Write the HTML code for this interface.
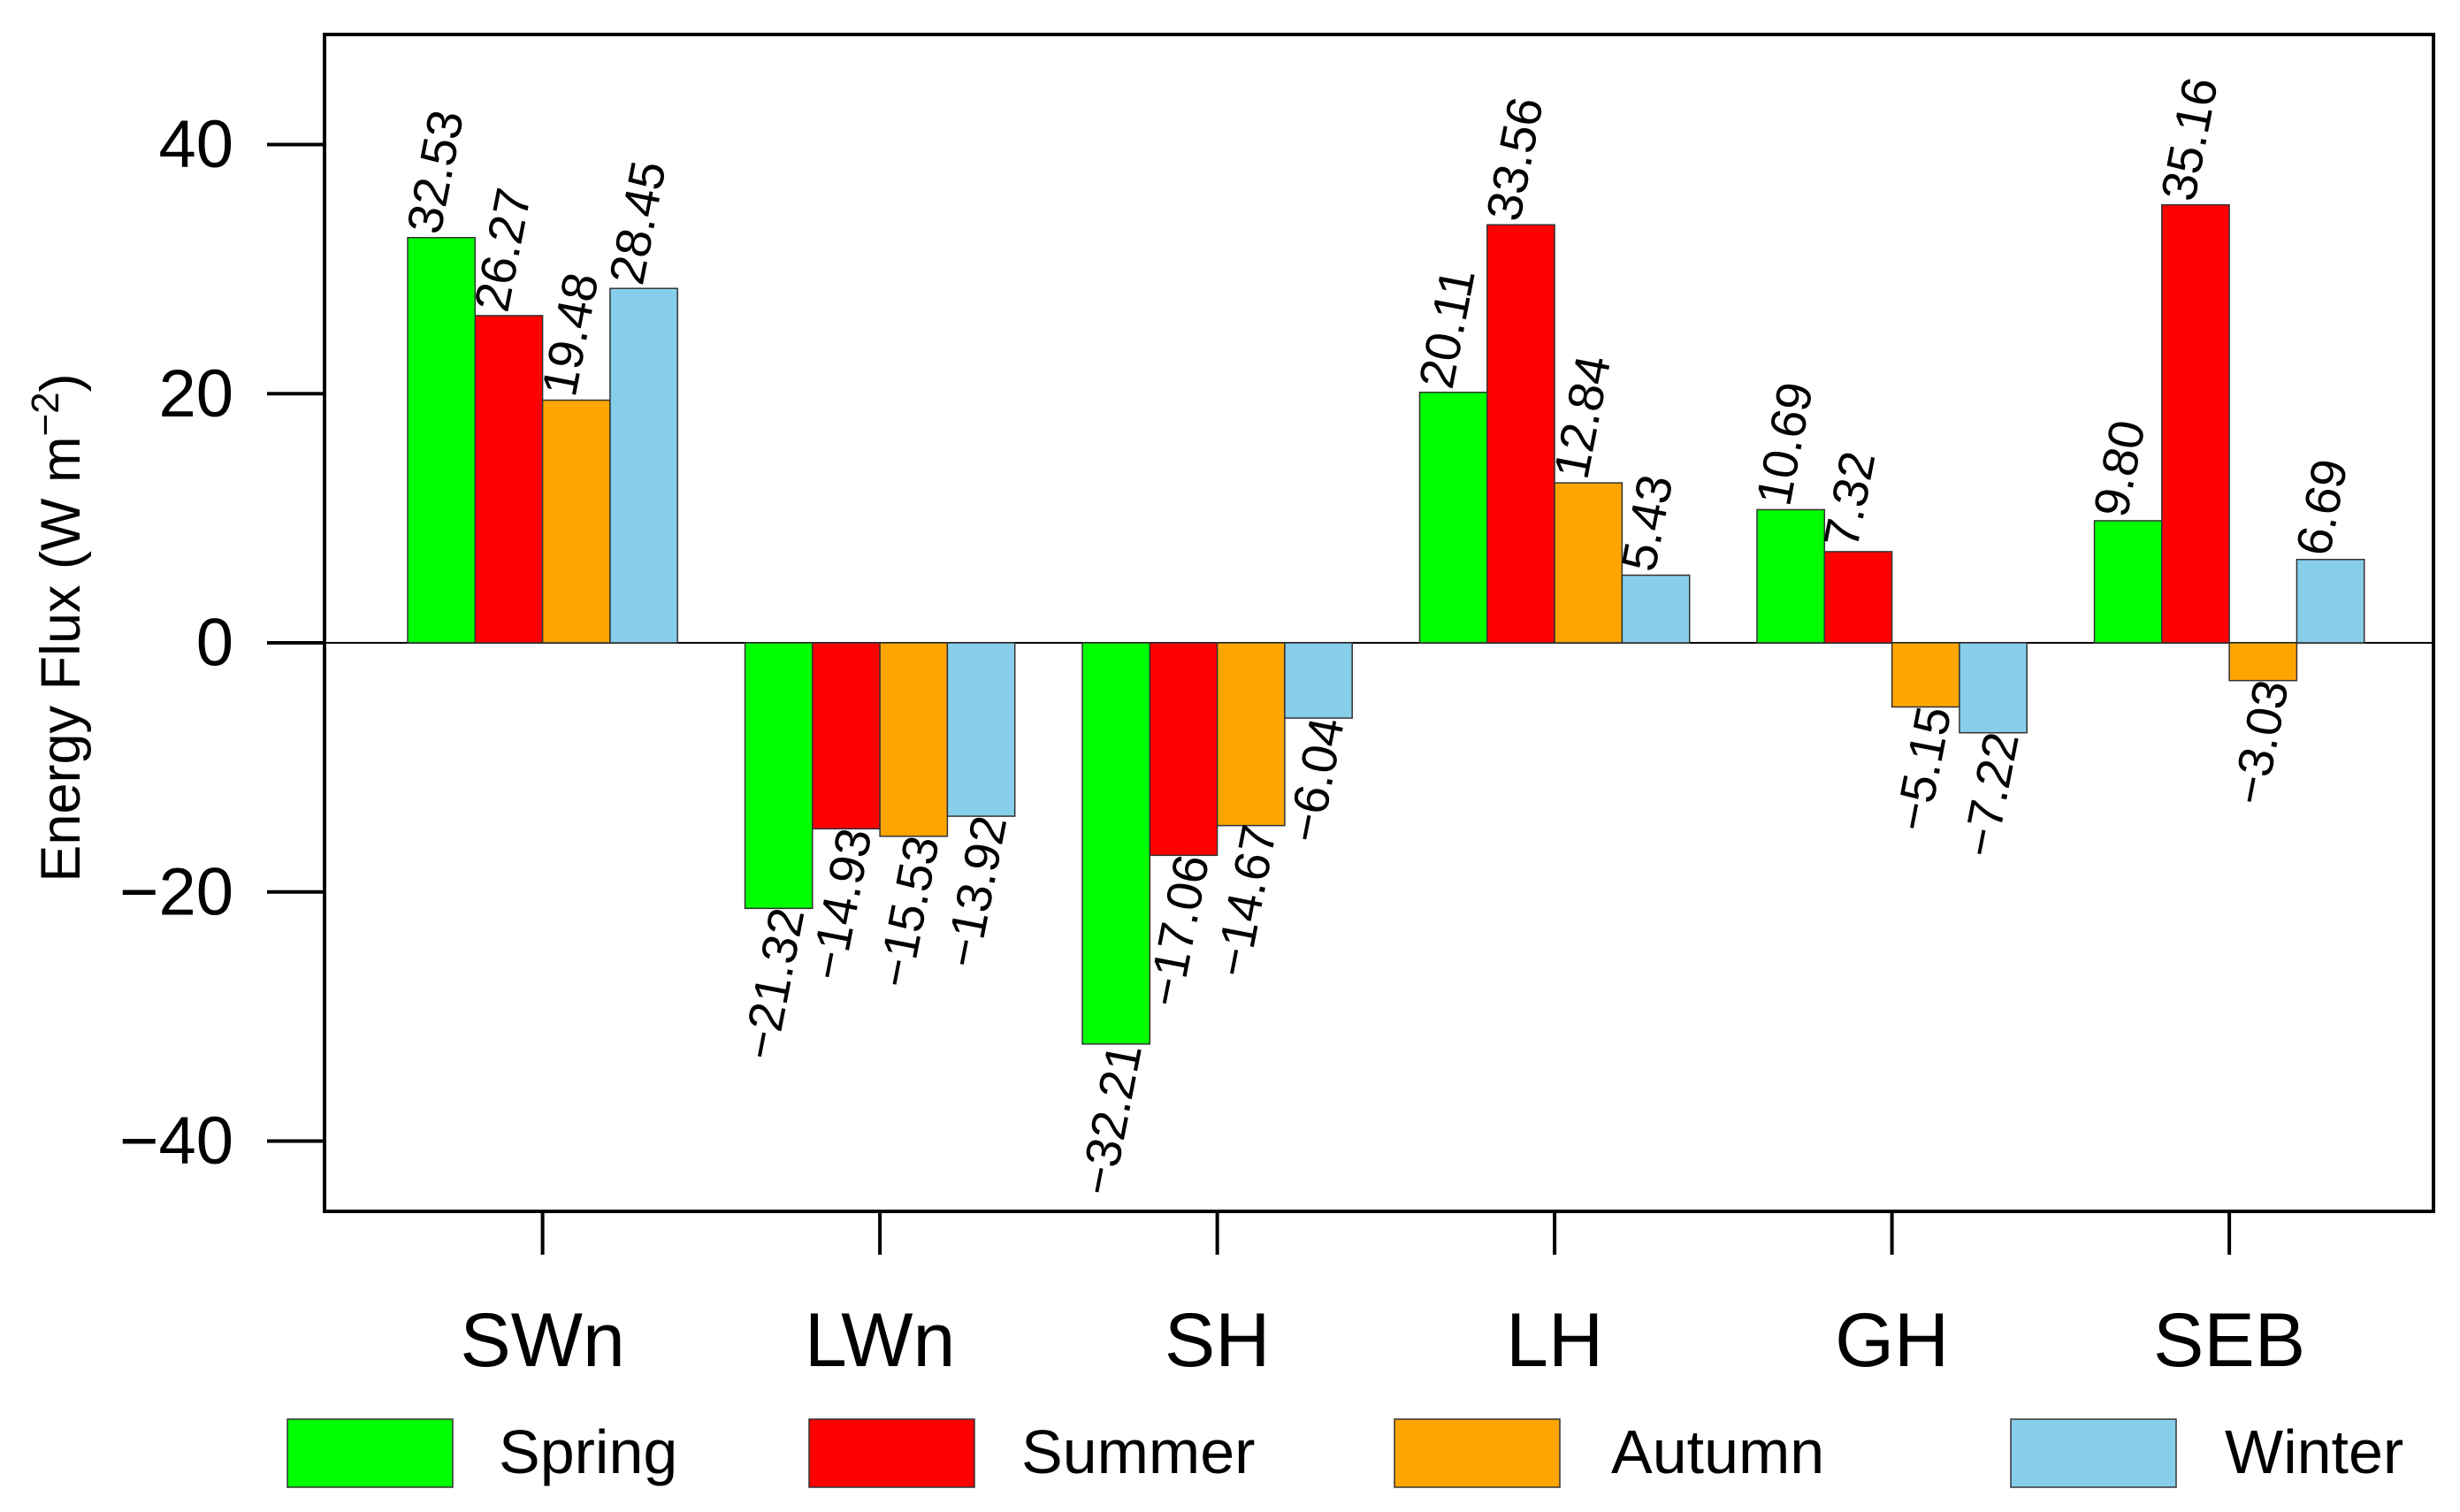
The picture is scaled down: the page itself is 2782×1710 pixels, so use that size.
<!DOCTYPE html>
<html><head><meta charset="utf-8"><style>
html,body{margin:0;padding:0;background:#fff;}
svg{display:block;font-family:"Liberation Sans",Arial,sans-serif;}
</style></head><body>
<svg id="chart" width="2782" height="1710" viewBox="0 0 2782 1710">
<rect x="367" y="39" width="2385" height="1331" fill="#fff" stroke="#000" stroke-width="4"/>
<text transform="translate(90,710) rotate(-90)" text-anchor="middle" font-size="63">Energy Flux (W m<tspan dy="-24" font-size="44">−2</tspan><tspan dy="24">)</tspan></text>
<g id="g"></g>
</svg>
<script>
const categories = ["SWn","LWn","SH","LH","GH","SEB"];
const seasons = ["Spring","Summer","Autumn","Winter"];
const spring = [32.53,-21.32,-32.21,20.11,10.69,9.80];
const summer = [26.27,-14.93,-17.06,33.56,7.32,35.16];
const autumn = [19.48,-15.53,-14.67,12.84,-5.15,-3.03];
const winter = [28.45,-13.92,-6.04,5.43,-7.22,6.69];
const yTicks = [40,20,0,-20,-40];
const colors = ["#00ff00","#ff0000","#ffa500","#87ceeb"];

const NS="http://www.w3.org/2000/svg";
const g=document.getElementById('g');
const plotL=367, plotR=2752, plotT=39, plotB=1370;
const y0px=727, unit=(1290-163)/80;
function yScale(v){return y0px - v*unit;}
const barW=76.3, firstLeft=461;
function xScale(ci,si){return firstLeft + ci*5*barW + si*barW;}
function mk(tag,attrs){const e=document.createElementNS(NS,tag);for(const k in attrs)e.setAttribute(k,attrs[k]);g.appendChild(e);return e;}

let zl=mk('line',{x1:plotL,x2:plotR,y1:yScale(0),y2:yScale(0),stroke:'#000','stroke-width':2});



yTicks.forEach(t=>{
  const y=yScale(t);
  const l=mk('line',{x1:302,x2:plotL,y1:y,y2:y,stroke:'#000','stroke-width':4});
  
  
  const tx=mk('text',{x:264,y:y,'text-anchor':'end','dominant-baseline':'central','font-size':76});
  tx.textContent=(t<0?'−':'')+Math.abs(t);
  
  
});

const series=[spring,summer,autumn,winter];
categories.forEach((c,ci)=>{
  series.forEach((arr,si)=>{
    const v=arr[ci];
    const x=xScale(ci,si);
    const y1=yScale(Math.max(v,0)), y2=yScale(Math.min(v,0));
    const r=mk('rect',{x:x,y:y1,width:barW,height:y2-y1,fill:colors[si],stroke:'#333','stroke-width':1.5});
    
    
    const lbl=(v<0?'−':'')+Math.abs(v).toFixed(2);
    let t;
    if(v>=0){
      const ax=x+barW*0.48, ay=yScale(v)-2;
      t=mk('text',{x:ax,y:ay,'text-anchor':'start','font-size':56,transform:`rotate(-79 ${ax} ${ay})`});
    } else {
      const ax=x+barW*0.88, ay=yScale(v)+4;
      t=mk('text',{x:ax,y:ay,'text-anchor':'end','font-size':56,transform:`rotate(-79 ${ax} ${ay})`});
    }
    t.textContent=lbl;
    
    
  });
  const cx=xScale(ci,0)+2*barW;
  const tk=mk('line',{x1:cx,x2:cx,y1:plotB,y2:1419,stroke:'#000','stroke-width':4});
  
  
  const ct=mk('text',{x:cx,y:1545,'text-anchor':'middle','font-size':86});
  ct.textContent=c;
  
  
});

const legRectX=[325,915,1577,2274], legTextX=[564,1155,1822,2516];
seasons.forEach((s,si)=>{
  const r=mk('rect',{x:legRectX[si],y:1605,width:187,height:77,fill:colors[si],stroke:'#333','stroke-width':1.5});
  
  
  const t=mk('text',{x:legTextX[si],y:1666,'font-size':70});
  t.textContent=s;
  
  
});
</script>
</body></html>
